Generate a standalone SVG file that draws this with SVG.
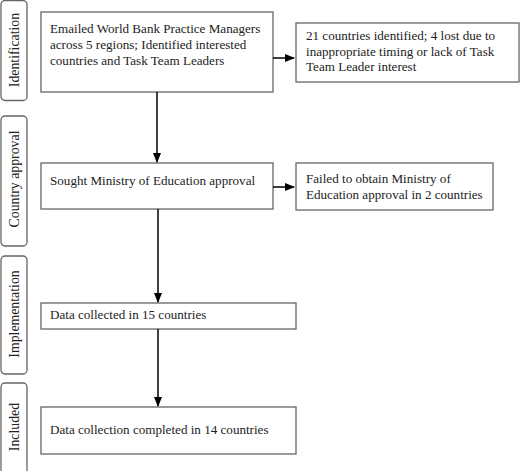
<svg xmlns="http://www.w3.org/2000/svg" width="520" height="471" viewBox="0 0 520 471">
<defs>
<marker id="ah" markerWidth="10" markerHeight="8" refX="9" refY="4" orient="auto" markerUnits="userSpaceOnUse">
<path d="M0,0 L10,4 L0,8 Z" fill="#000"/>
</marker>
<style>
.box{fill:#fff;stroke:#666;stroke-width:1.3}
.side{fill:#fff;stroke:#666;stroke-width:1.3}
.t{font-family:"Liberation Serif","Times New Roman",serif;font-size:13.1px;fill:#222}
.s{font-family:"Liberation Serif","Times New Roman",serif;font-size:13.8px;fill:#222;text-anchor:middle}
.c{stroke:#000;stroke-width:1.5;fill:none;marker-end:url(#ah)}
</style>
</defs>
<rect width="520" height="471" fill="#fff"/>
<g id="stage-identification">
<rect class="side" x="1" y="0.5" width="26" height="100" rx="4"/>
<text class="s" transform="translate(19,50) rotate(-90)">Identification</text>
</g>
<g id="stage-country-approval">
<rect class="side" x="1" y="116" width="26" height="130" rx="4"/>
<text class="s" transform="translate(19,179) rotate(-90)">Country approval</text>
</g>
<g id="stage-implementation">
<rect class="side" x="1" y="256" width="26" height="118" rx="4"/>
<text class="s" transform="translate(19,314) rotate(-90)">Implementation</text>
</g>
<g id="stage-included">
<rect class="side" x="1" y="383" width="26" height="94" rx="4"/>
<text class="s" transform="translate(19,427) rotate(-90)">Included</text>
</g>
<g id="n1">
<rect class="box" x="41" y="12" width="232" height="80"/>
<text class="t" x="50" y="33">Emailed World Bank Practice Managers</text>
<text class="t" x="50" y="49">across 5 regions; Identified interested</text>
<text class="t" x="50" y="65">countries and Task Team Leaders</text>
</g>
<g id="n1x">
<rect class="box" x="296" y="23" width="223" height="59"/>
<text class="t" x="306" y="40">21 countries identified; 4 lost due to</text>
<text class="t" x="306" y="55.5">inappropriate timing or lack of Task</text>
<text class="t" x="306" y="71">Team Leader interest</text>
</g>
<g id="n2">
<rect class="box" x="41" y="163" width="232" height="46"/>
<text class="t" x="50" y="185">Sought Ministry of Education approval</text>
</g>
<g id="n2x">
<rect class="box" x="296" y="163" width="197" height="47"/>
<text class="t" x="306" y="183">Failed to obtain Ministry of</text>
<text class="t" x="306" y="198.5">Education approval in 2 countries</text>
</g>
<g id="n3">
<rect class="box" x="41" y="303" width="255" height="26"/>
<text class="t" x="50" y="319">Data collected in 15 countries</text>
</g>
<g id="n4">
<rect class="box" x="41" y="407" width="255" height="47"/>
<text class="t" x="50" y="434">Data collection completed in 14 countries</text>
</g>
<g id="connectors">
<line class="c" x1="157" y1="92" x2="157" y2="162"/>
<line class="c" x1="273" y1="58" x2="294" y2="58"/>
<line class="c" x1="158" y1="209" x2="158" y2="302"/>
<line class="c" x1="273" y1="187" x2="294" y2="187"/>
<line class="c" x1="158" y1="329" x2="158" y2="406"/>
</g>
</svg>
